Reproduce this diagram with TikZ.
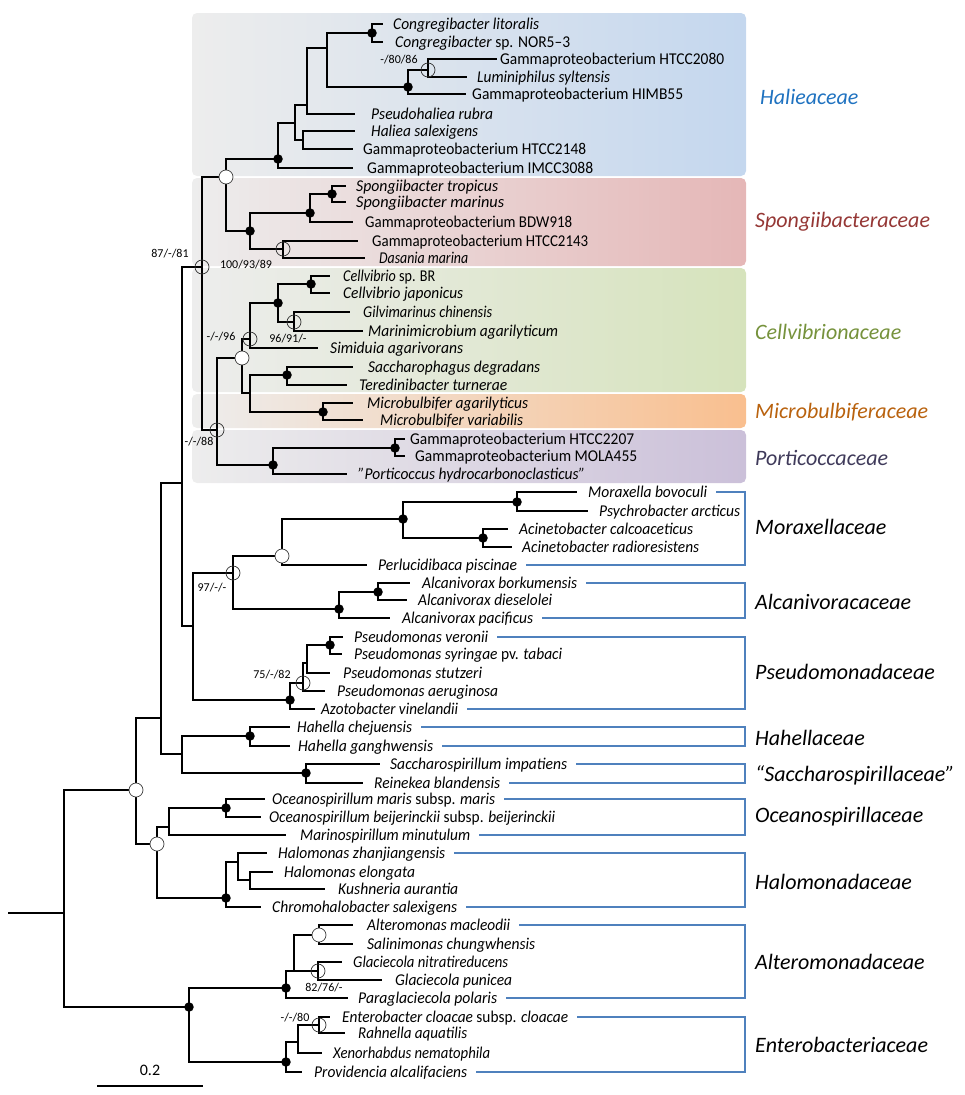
\documentclass[tikz,border=0pt]{standalone}
\usepackage{fontspec}
\setmainfont{Carlito}
\usetikzlibrary{calc}
\definecolor{brkblue}{HTML}{4F81BD}
\definecolor{boxgray}{HTML}{EDEDED}
\definecolor{halblue}{HTML}{C4D7EE}
\definecolor{sppink}{HTML}{E5B7B7}
\definecolor{celgreen}{HTML}{D6E3BC}
\definecolor{micorange}{HTML}{F9BF8F}
\definecolor{porpurple}{HTML}{CBC0D9}
\definecolor{halC}{HTML}{1F72C0}
\definecolor{spC}{HTML}{953735}
\definecolor{ceC}{HTML}{76923C}
\definecolor{miC}{HTML}{B9620E}
\definecolor{poC}{HTML}{3F3A5A}
\newcommand\spn[1]{\textit{#1}}
\newcommand\mkleaf[6]{\coordinate (t#1) at (#2,#4); \node[lf] (L#1) at (#3,#4) {\resizebox{#5pt}{\height}{#6}};}
\begin{document}
\begin{tikzpicture}[x=1pt,y=-1pt,
 br/.style={line width=2.1pt},
 lf/.style={anchor=base west, inner sep=0pt, font=\fontsize{16.5}{19}\selectfont, yshift=-5.5pt},
 dotm/.style={circle, fill=black, inner sep=0pt, minimum size=9.5pt},
 openm/.style={circle, draw=black!75, line width=0.7pt, fill=white, inner sep=0pt, minimum size=14pt},
 ringm/.style={circle, draw=black!80, line width=0.7pt, inner sep=0pt, minimum size=14pt},
 supl/.style={font=\fontsize{12}{14}\selectfont, inner sep=0pt},
 fam/.style={anchor=west, inner sep=0pt, font=\fontsize{22}{26}\selectfont\itshape},
 brk/.style={draw=brkblue, line width=2pt},
 famshade/.style={rounded corners=5pt, left color=boxgray, right color=#1}
]
\useasboundingbox (0,0) rectangle (964,1095);
% background boxes
\shade[famshade=halblue] (192,13) rectangle (746,176);
\shade[famshade=sppink] (192,178) rectangle (746,266);
\shade[famshade=celgreen] (192,268) rectangle (746,392);
\shade[famshade=micorange] (192,394) rectangle (746,428);
\shade[famshade=porpurple] (192,430) rectangle (746,483);

% leaves: id, tip x, text x, y, width, text
\mkleaf{1}{383}{393}{24}{146}{\spn{Congregibacter litoralis}}
\mkleaf{2}{383}{395}{42}{175}{\spn{Congregibacter} sp. NOR5–3}
\mkleaf{3}{497}{500}{59}{224}{Gammaproteobacterium HTCC2080}
\mkleaf{4}{467}{477}{77}{133}{\spn{Luminiphilus syltensis}}
\mkleaf{5}{466}{472}{94}{211}{Gammaproteobacterium HIMB55}
\mkleaf{6}{355}{371}{114}{122}{\spn{Pseudohaliea rubra}}
\mkleaf{7}{355}{371}{131}{107}{\spn{Haliea salexigens}}
\mkleaf{8}{353}{363}{149}{223}{Gammaproteobacterium HTCC2148}
\mkleaf{9}{353}{367}{168}{226}{Gammaproteobacterium IMCC3088}
\mkleaf{10}{346}{356}{186}{142}{\spn{Spongiibacter tropicus}}
\mkleaf{11}{346}{356}{202}{148}{\spn{Spongiibacter marinus}}
\mkleaf{12}{353}{365}{222}{207}{Gammaproteobacterium BDW918}
\mkleaf{13}{358}{372}{241}{216}{Gammaproteobacterium HTCC2143}
\mkleaf{14}{365}{379}{258}{89}{\spn{Dasania marina}}
\mkleaf{15}{330}{343}{276}{92}{\spn{Cellvibrio} sp. BR}
\mkleaf{16}{330}{343}{293}{120}{\spn{Cellvibrio japonicus}}
\mkleaf{17}{350}{363}{312}{129}{\spn{Gilvimarinus chinensis}}
\mkleaf{18}{363}{368}{331}{190}{\spn{Marinimicrobium agarilyticum}}
\mkleaf{19}{318}{330}{348}{133}{\spn{Simiduia agarivorans}}
\mkleaf{20}{353}{368}{367}{172}{\spn{Saccharophagus degradans}}
\mkleaf{21}{347}{359}{385}{148}{\spn{Teredinibacter turnerae}}
\mkleaf{22}{353}{367}{403}{161}{\spn{Microbulbifer agarilyticus}}
\mkleaf{23}{363}{380}{420}{143}{\spn{Microbulbifer variabilis}}
\mkleaf{24}{405}{410}{439}{224}{Gammaproteobacterium HTCC2207}
\mkleaf{25}{405}{415}{456}{222}{Gammaproteobacterium MOLA455}
\mkleaf{26}{347}{358}{474}{227}{\spn{"Porticoccus hydrocarbonoclasticus"}}
\mkleaf{27}{577}{588}{492}{119}{\spn{Moraxella bovoculi}}
\mkleaf{28}{588}{599}{511}{141}{\spn{Psychrobacter arcticus}}
\mkleaf{29}{508}{519}{529}{174}{\spn{Acinetobacter calcoaceticus}}
\mkleaf{30}{512}{522}{547}{177}{\spn{Acinetobacter radioresistens}}
\mkleaf{31}{367}{378}{565}{139}{\spn{Perlucidibaca piscinae}}
\mkleaf{32}{410}{422}{583}{155}{\spn{Alcanivorax borkumensis}}
\mkleaf{33}{407}{418}{600}{134}{\spn{Alcanivorax dieselolei}}
\mkleaf{34}{390}{402}{618}{131}{\spn{Alcanivorax pacificus}}
\mkleaf{35}{343}{354}{637}{134}{\spn{Pseudomonas veronii}}
\mkleaf{36}{342}{354}{654}{208}{\spn{Pseudomonas syringae} pv. \spn{tabaci}}
\mkleaf{37}{330}{343}{673}{139}{\spn{Pseudomonas stutzeri}}
\mkleaf{38}{325}{337}{691}{161}{\spn{Pseudomonas aeruginosa}}
\mkleaf{39}{315}{321}{709}{137}{\spn{Azotobacter vinelandii}}
\mkleaf{40}{290}{297}{727}{115}{\spn{Hahella chejuensis}}
\mkleaf{41}{290}{298}{746}{135}{\spn{Hahella ganghwensis}}
\mkleaf{42}{380}{390}{764}{177}{\spn{Saccharospirillum impatiens}}
\mkleaf{43}{363}{374}{783}{126}{\spn{Reinekea blandensis}}
\mkleaf{44}{265}{272}{799}{223}{\spn{Oceanospirillum maris} subsp. \spn{maris}}
\mkleaf{45}{261}{269}{817}{286}{\spn{Oceanospirillum beijerinckii} subsp. \spn{beijerinckii}}
\mkleaf{46}{286}{300}{835}{170}{\spn{Marinospirillum minutulum}}
\mkleaf{47}{267}{278}{853}{167}{\spn{Halomonas zhanjiangensis}}
\mkleaf{48}{273}{284}{872}{131}{\spn{Halomonas elongata}}
\mkleaf{49}{325}{338}{889}{120}{\spn{Kushneria aurantia}}
\mkleaf{50}{261}{272}{907}{185}{\spn{Chromohalobacter salexigens}}
\mkleaf{51}{353}{367}{925}{143}{\spn{Alteromonas macleodii}}
\mkleaf{52}{353}{367}{944}{168}{\spn{Salinimonas chungwhensis}}
\mkleaf{53}{342}{353}{962}{155}{\spn{Glaciecola nitratireducens}}
\mkleaf{54}{382}{395}{980}{117}{\spn{Glaciecola punicea}}
\mkleaf{55}{348}{358}{998}{139}{\spn{Paraglaciecola polaris}}
\mkleaf{56}{330}{342}{1017}{226}{\spn{Enterobacter cloacae} subsp. \spn{cloacae}}
\mkleaf{57}{345}{358}{1033}{109}{\spn{Rahnella aquatilis}}
\mkleaf{58}{322}{333}{1053}{157}{\spn{Xenorhabdus nematophila}}
\mkleaf{59}{302}{314}{1072}{153}{\spn{Providencia alcalifaciens}}

% internal nodes
\coordinate (hC) at (372,33);
\coordinate (hR) at (428,70);
\coordinate (h6) at (408,87);
\coordinate (h5) at (327,48);
\coordinate (h3) at (307,105);
\coordinate (h4) at (303,140);
\coordinate (h2) at (295,123);
\coordinate (h1) at (278,159);
\coordinate (s3) at (332,194);
\coordinate (s2) at (310,213);
\coordinate (sR) at (283,249);
\coordinate (s1) at (250,231);
\coordinate (nA) at (226,177);
\coordinate (c4) at (311,284);
\coordinate (cR2) at (294,322);
\coordinate (c3) at (278,303);
\coordinate (cR) at (250,339);
\coordinate (c5) at (287,375);
\coordinate (m1) at (323,412);
\coordinate (nF) at (250,393);
\coordinate (nD) at (242,358);
\coordinate (p2) at (395,448);
\coordinate (p1) at (273,465);
\coordinate (nC) at (217,430);
\coordinate (nB) at (202,267);
\coordinate (mo3) at (517,502);
\coordinate (mo4) at (483,538);
\coordinate (mo2) at (403,519);
\coordinate (mo1) at (282,556);
\coordinate (al2) at (378,592);
\coordinate (al1) at (339,609);
\coordinate (aR) at (233,573);
\coordinate (ps3) at (330,645);
\coordinate (ps2) at (307,663);
\coordinate (psR) at (303,683);
\coordinate (ps1) at (290,700);
\coordinate (M2) at (193,626);
\coordinate (M1) at (182,483);
\coordinate (ha) at (250,736);
\coordinate (sa) at (306,773);
\coordinate (M3) at (182,754);
\coordinate (M0) at (161,718);
\coordinate (oc2) at (226,808);
\coordinate (oc1) at (169,827);
\coordinate (hm3) at (250,880);
\coordinate (hm2) at (238,862);
\coordinate (hm1) at (226,898);
\coordinate (nG) at (157,844);
\coordinate (R1) at (136,790);
\coordinate (at2) at (319,935);
\coordinate (atR) at (318,971);
\coordinate (atb) at (294,971);
\coordinate (at1) at (286,988);
\coordinate (en3) at (319,1025);
\coordinate (en2) at (298,1042);
\coordinate (en1) at (286,1062);
\coordinate (R2) at (189,1007);
\coordinate (root) at (64,913);
\coordinate (rs) at (8,913);

% branches
\foreach \p/\c in {hC/t1, hC/t2, hR/t3, hR/t4, h6/hR, h6/t5, h5/hC, h5/h6, h3/h5, h3/t6, h4/t7, h4/t8, h2/h3, h2/h4, h1/h2, h1/t9,
 s3/t10, s3/t11, s2/s3, s2/t12, sR/t13, sR/t14, s1/s2, s1/sR, nA/h1, nA/s1,
 c4/t15, c4/t16, cR2/t17, cR2/t18, c3/c4, c3/cR2, cR/c3, cR/t19, c5/t20, c5/t21, m1/t22, m1/t23, nF/c5, nF/m1, nD/cR, nD/nF, p2/t24, p2/t25, p1/p2, p1/t26, nC/nD, nC/p1, nB/nA, nB/nC,
 mo3/t27, mo3/t28, mo4/t29, mo4/t30, mo2/mo3, mo2/mo4, mo1/mo2, mo1/t31, al2/t32, al2/t33, al1/al2, al1/t34, aR/mo1, aR/al1,
 ps3/t35, ps3/t36, ps2/ps3, ps2/t37, psR/ps2, psR/t38, ps1/psR, ps1/t39, M2/aR, M2/ps1, M1/nB, M1/M2,
 ha/t40, ha/t41, sa/t42, sa/t43, M3/ha, M3/sa, M0/M1, M0/M3,
 oc2/t44, oc2/t45, oc1/oc2, oc1/t46, hm3/t48, hm3/t49, hm2/t47, hm2/hm3, hm1/hm2, hm1/t50, nG/oc1, nG/hm1, R1/M0, R1/nG,
 at2/t51, at2/t52, atR/t53, atR/t54, atb/at2, atb/atR, at1/atb, at1/t55,
 en3/t56, en3/t57, en2/en3, en2/t58, en1/en2, en1/t59, R2/at1, R2/en1, root/R1, root/R2}
 \draw[br] (\p) |- (\c);
\draw[br] (rs) -- (root);

% node markers
\foreach \n in {hC, h6, h1, s3, s2, s1, c4, c3, c5, m1, p2, p1, mo3, mo4, mo2, al2, al1, ps3, ps1, ha, sa, oc2, hm1, R2, at1, en1}
 \node[dotm] at (\n) {};
\foreach \n in {nA, nD, mo1, R1, nG, at2}
 \node[openm] at (\n) {};
\foreach \n in {hR, sR, nB, cR2, cR, nC, aR, psR, atR, en3}
 \node[ringm] at (\n) {};

% support values
\node[supl] (v1) at (399,60) {-/80/86};
\node[supl] (v2) at (246,265) {100/93/89};
\node[supl] (v3) at (170,254) {87/-/81};
\node[supl] (v4) at (288,339) {96/91/-};
\node[supl] (v5) at (221,337) {-/-/96};
\node[supl] (v6) at (199,442) {-/-/88};
\node[supl] (v7) at (212,588) {97/-/-};
\node[supl] (v8) at (272,675) {75/-/82};
\node[supl] (v9) at (324,988) {82/76/-};
\node[supl] (v10) at (295,1018) {-/-/80};

% family labels
\node[fam, text=halC] (f1) at (760,97) {Halieaceae};
\node[fam, text=spC] (f2) at (755,222) {Spongiibacteraceae};
\node[fam, text=ceC] (f3) at (755,332) {Cellvibrionaceae};
\node[fam, text=miC] (f4) at (755,412) {Microbulbiferaceae};
\node[fam, text=poC] (f5) at (755,458) {Porticoccaceae};
\node[fam] (f6) at (755,527) {Moraxellaceae};
\node[fam] (f7) at (755,602) {Alcanivoracaceae};
\node[fam] (f8) at (755,672) {Pseudomonadaceae};
\node[fam] (f9) at (755,738) {Hahellaceae};
\node[fam] (f10) at (755,775) {“Saccharospirillaceae”};
\node[fam] (f11) at (755,817) {Oceanospirillaceae};
\node[fam] (f12) at (755,882) {Halomonadaceae};
\node[fam] (f13) at (755,962) {Alteromonadaceae};
\node[fam] (f14) at (755,1045) {Enterobacteriaceae};

% brackets
\coordinate (BX) at (745,0);
\foreach \a/\b in {27/31, 32/34, 35/39, 40/41, 42/43, 44/46, 47/50, 51/55, 56/59}
 \draw[brk] ($(L\a.east |- t\a)+(9,0)$) -- (BX |- t\a) -- (BX |- t\b) -- ($(L\b.east |- t\b)+(9,0)$);

% scale bar
\coordinate (sb1) at (97,1086);
\coordinate (sb2) at (203,1086);
\draw[br] (sb1) -- (sb2);
\node[font=\fontsize{16}{18}\selectfont, inner sep=0pt] (sbl) at (150,1070) {0.2};
\end{tikzpicture}
\end{document}
